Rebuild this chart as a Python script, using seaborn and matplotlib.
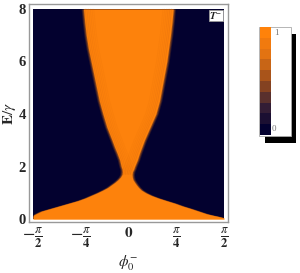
import numpy as np
import matplotlib
matplotlib.use("Agg")
import matplotlib.pyplot as plt
import seaborn as sns
from matplotlib.patches import Rectangle
from matplotlib.colors import ListedColormap

# ---- data ----
E_rows = [0.0, 0.05, 0.1, 0.15, 0.2, 0.3, 0.4, 0.5, 0.6, 0.7, 0.8, 0.9, 1.0,
          1.1, 1.2, 1.3, 1.4, 1.5, 1.6, 1.7, 1.8, 1.9, 2.0, 2.25, 2.5, 2.75,
          3.0, 3.5, 4.0, 4.5, 5.0, 5.5, 6.0, 6.5, 7.0, 7.5, 8.0]
left_edge = [-1.64, -1.62, -1.59, -1.56, -1.52, -1.43, -1.28, -1.13, -0.98,
             -0.83, -0.71, -0.61, -0.51, -0.42, -0.34, -0.28, -0.22, -0.17,
             -0.13, -0.105, -0.10, -0.105, -0.12, -0.145, -0.185, -0.23, -0.27,
             -0.355, -0.42, -0.48, -0.525, -0.57, -0.615, -0.66, -0.695, -0.72,
             -0.74]
right_edge = [1.64, 1.56, 1.47, 1.37, 1.28, 1.15, 1.02, 0.88, 0.76, 0.62,
              0.485, 0.37, 0.28, 0.21, 0.165, 0.13, 0.10, 0.073, 0.062, 0.058,
              0.065, 0.085, 0.10, 0.145, 0.18, 0.22, 0.26, 0.355, 0.45, 0.51,
              0.55, 0.59, 0.63, 0.66, 0.69, 0.715, 0.735]
x_ticks = [-np.pi / 2, -np.pi / 4, 0, np.pi / 4, np.pi / 2]
x_ticklabels = [r'$-\frac{\pi}{\mathbf{2}}$', r'$-\frac{\pi}{\mathbf{4}}$',
                r'$\mathbf{0}$', r'$\frac{\pi}{\mathbf{4}}$', r'$\frac{\pi}{\mathbf{2}}$']
y_ticks = [0, 2, 4, 6, 8]
y_ticklabels = ['0', '2', '4', '6', '8']
cbar_labels = ['0', '1']
n_bands = 10

sns.set_style('white')
plt.rcParams['mathtext.fontset'] = 'stix'
plt.rcParams['font.family'] = ['Liberation Serif', 'DejaVu Serif']

navy = '#03012f'
orange = '#fd820c'
stripe = '#d8650a'
palette_anchors = [navy, '#3a2236', '#9a4c1c', '#e07214', '#ff820a']

W, H = 300, 273
fig = plt.figure(figsize=(W / 100, H / 100), dpi=100)
fig.patch.set_facecolor('white')

def fx(px):
    return px / W

def fy(py):
    return 1 - py / H

ax = fig.add_axes([fx(29), fy(222), (228 - 29) / W, (222 - 4) / H])
ax.set_facecolor('white')

E = np.array(E_rows)
lo = np.clip(np.array(left_edge), -np.pi / 2, np.pi / 2)
hi = np.clip(np.array(right_edge), -np.pi / 2, np.pi / 2)

# dark background over the data domain
ax.fill_between([-np.pi / 2, np.pi / 2], 0, 8, color=navy, linewidth=0, zorder=1)
# soft halo, then the transmitting region
for d, a in [(0.04, 0.15), (0.025, 0.25), (0.012, 0.35)]:
    ax.fill_betweenx(E, np.clip(lo - d, -np.pi / 2, 0), np.clip(hi + d, 0, np.pi / 2),
                     color=orange, alpha=a, linewidth=0, zorder=2)
ax.fill_betweenx(E, lo, hi, color=orange, linewidth=0, zorder=3)

# faint interference fringes running along the edges
up = E >= 1.7
for k in range(1, 7):
    off = 0.028 * k
    a = 0.35 - 0.04 * k
    ax.plot(lo[up] + off, E[up], color=stripe, lw=0.6, alpha=a, zorder=4)
    ax.plot(hi[up] - off, E[up], color=stripe, lw=0.6, alpha=a, zorder=4)

ax.set_xlim(-1.637, 1.637)
ax.set_ylim(-0.114, 8.19)
ax.set_xticks(x_ticks)
ax.set_xticklabels(x_ticklabels, fontsize=13)
ax.get_xticklabels()[2].set_fontsize(11)
ax.set_yticks(y_ticks)
ax.set_yticklabels(y_ticklabels, fontsize=10.5, fontweight='bold')
ax.tick_params(direction='in', length=2, width=0.6, color='#999999', pad=2)
ax.tick_params(axis='x', pad=3)
for sp in ax.spines.values():
    sp.set_color('#999999')
    sp.set_linewidth(1.0)
    sp.set_zorder(10)
ax.set_ylabel(r'$\mathbf{E}/\gamma$', fontsize=11, va='center')
ax.yaxis.set_label_coords((9 - 29) / 199, 0.5)
ax.set_xlabel(r'$\phi_0^{-}$', fontsize=11, va='center')
ax.xaxis.set_label_coords((128 - 29) / 199, (222 - 263) / 218)

# inset label box
fig.add_artist(Rectangle((fx(209), fy(21)), 13.5 / W, 11 / H, transform=fig.transFigure,
                         facecolor='white', edgecolor='#999999', linewidth=0.6, zorder=5))
fig.text(fx(215.5), fy(15.5), r'$\boldsymbol{T}^{-}$', fontsize=7.5, ha='center', va='center',
         zorder=6, color='#222222')

# colour legend
fig.add_artist(Rectangle((fx(265), fy(143)), 31 / W, 109 / H, transform=fig.transFigure,
                         facecolor='black', edgecolor='none', zorder=1))
fig.add_artist(Rectangle((fx(259), fy(136)), 32 / W, 109 / H, transform=fig.transFigure,
                         facecolor='white', edgecolor='#aaaaaa', linewidth=0.6, zorder=2))
cax = fig.add_axes([fx(259.5), fy(135), 11 / W, 108 / H], zorder=3)
band_colors = sns.blend_palette(palette_anchors, n_colors=n_bands)
cax.imshow(np.arange(n_bands)[::-1, None], cmap=ListedColormap(band_colors),
           aspect='auto', interpolation='nearest')
cax.set_xticks([])
cax.set_yticks([])
for sp in cax.spines.values():
    sp.set_visible(False)
fig.text(fx(274), fy(33), cbar_labels[1], fontsize=6.5, color='#777777', ha='left', va='center', zorder=4)
fig.text(fx(271.5), fy(129), cbar_labels[0], fontsize=6.5, color='#777777', ha='left', va='center', zorder=4)

fig.savefig('out.png', dpi=100)
